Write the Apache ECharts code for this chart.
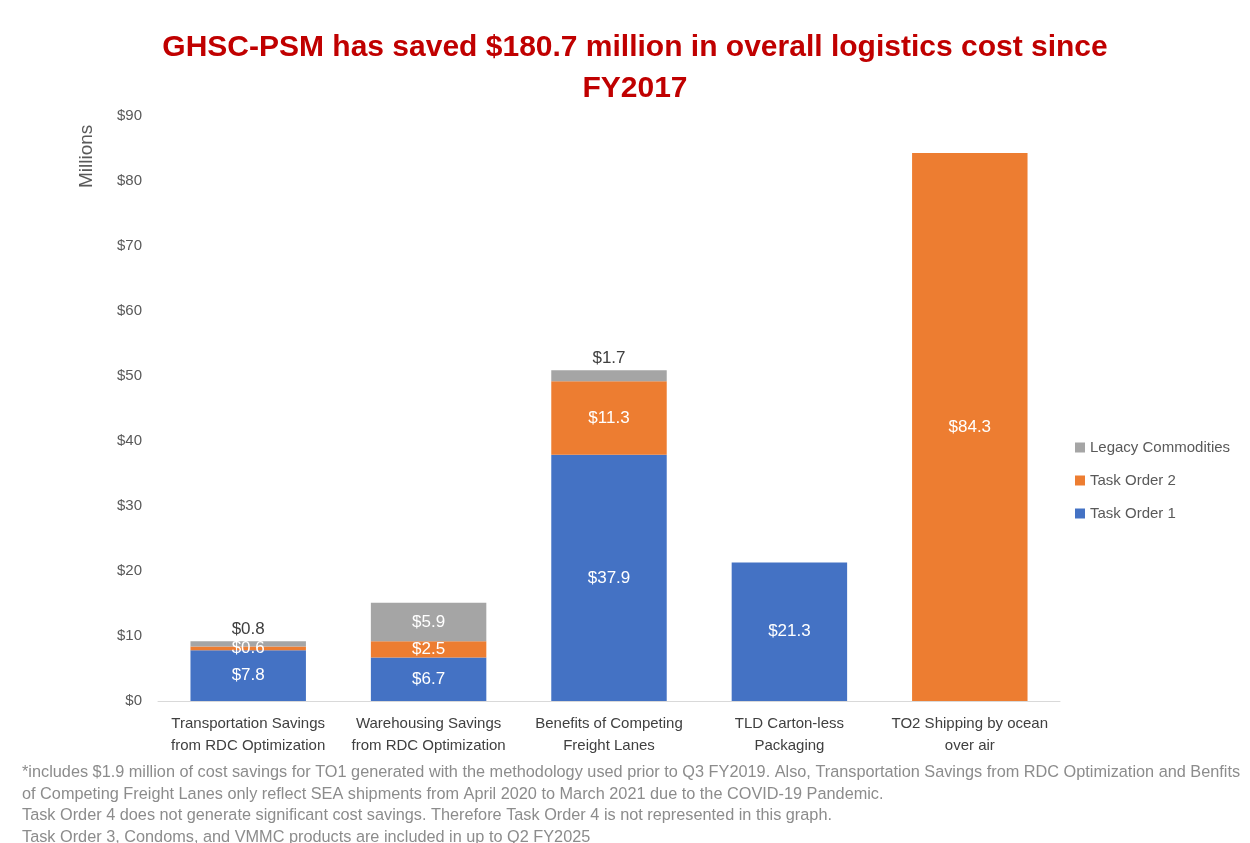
<!DOCTYPE html>
<html>
<head>
<meta charset="utf-8">
<script src="https://cdn.jsdelivr.net/npm/echarts@6/dist/echarts.min.js"></script>
<style>
  body { margin: 0; background: #fff; }
  #main { width: 1250px; height: 843px; }
</style>
</head>
<body>
<div id="main"></div>
<script>
// data (millions of dollars)
var categories = ['Transportation Savings\nfrom RDC Optimization', 'Warehousing Savings\nfrom RDC Optimization',
    'Benefits of Competing\nFreight Lanes', 'TLD Carton-less\nPackaging', 'TO2 Shipping by ocean\nover air'];
var taskOrder1 = [7.8, 6.7, 37.9, 21.3, 0];
var taskOrder2 = [0.6, 2.5, 11.3, 0, 84.3];
var legacy = [0.8, 5.9, 1.7, 0, 0];
var yTicks = [0, 10, 20, 30, 40, 50, 60, 70, 80, 90];

var footnotes = [
    '*includes $1.9 million of cost savings for TO1 generated with the methodology used prior to Q3 FY2019. Also, Transportation Savings from RDC Optimization and Benfits',
    'of Competing Freight Lanes only reflect SEA shipments from April 2020 to March 2021 due to the COVID-19 Pandemic.',
    'Task Order 4 does not generate significant cost savings. Therefore Task Order 4 is not represented in this graph.',
    'Task Order 3, Condoms, and VMMC products are included in up to Q2 FY2025'
];

var fontFam = 'Liberation Sans, Arial, sans-serif';

function fmt(p) {
    return p.value ? '$' + p.value.toFixed(1) : '';
}

// small segments get their label put above the bar
function legacyData(arr) {
    return arr.map(function (v) {
        if (v > 0 && v < 2) {
            return { value: v, label: { position: 'top', color: '#404040' } };
        }
        return v;
    });
}

var chartDom = document.getElementById('main');
var myChart = echarts.init(chartDom);

var noteEls = footnotes.map(function (t, i) {
    return {
        type: 'text', left: 22, top: 765 + i * 21.5,
        style: { text: t, fill: '#8c8c8c', font: '16.3px ' + fontFam }
    };
});
// y axis unit, rotated
noteEls.push({
    type: 'text', x: 77, y: 188, rotation: Math.PI / 2,
    style: { text: 'Millions', fill: '#595959', font: '19px ' + fontFam }
});

var option = {
    backgroundColor: '#fff',
    animation: false,
    title: {
        text: 'GHSC-PSM has saved $180.7 million in overall logistics cost since\nFY2017',
        left: 630, textAlign: 'center', top: 22,
        textStyle: { color: '#C00000', fontSize: 30, fontWeight: 'bold', fontFamily: fontFam, lineHeight: 41 }
    },
    legend: {
        orient: 'vertical', left: 1070, top: 435, itemGap: 18,
        itemWidth: 10, itemHeight: 10, icon: 'rect',
        data: ['Legacy Commodities', 'Task Order 2', 'Task Order 1'],
        textStyle: { color: '#595959', fontSize: 15, fontFamily: fontFam }
    },
    grid: { left: 158, right: 190, top: 116, bottom: 142 },
    xAxis: {
        type: 'category', data: categories,
        axisLine: { lineStyle: { color: '#d9d9d9' } },
        axisTick: { show: false },
        axisLabel: { color: '#404040', fontSize: 15, fontFamily: fontFam, lineHeight: 22, margin: 12, interval: 0 }
    },
    yAxis: {
        type: 'value', min: yTicks[0], max: yTicks[yTicks.length - 1], interval: 10,
        splitLine: { show: false },
        axisLine: { show: false },
        axisLabel: { color: '#595959', fontSize: 15, fontFamily: fontFam, margin: 16, formatter: '${value}' }
    },
    series: [
        {
            name: 'Task Order 1', type: 'bar', stack: 'a', barWidth: '64%', data: taskOrder1,
            itemStyle: { color: '#4472C4' },
            label: { show: true, position: 'inside', color: '#fff', fontSize: 17, fontFamily: fontFam, formatter: fmt }
        },
        {
            name: 'Task Order 2', type: 'bar', stack: 'a', data: taskOrder2,
            itemStyle: { color: '#ED7D31' },
            label: { show: true, position: 'inside', color: '#fff', fontSize: 17, fontFamily: fontFam, formatter: fmt }
        },
        {
            name: 'Legacy Commodities', type: 'bar', stack: 'a', data: legacyData(legacy),
            itemStyle: { color: '#A5A5A5' },
            label: { show: true, position: 'inside', color: '#fff', fontSize: 17, fontFamily: fontFam, formatter: fmt, distance: 3 }
        }
    ],
    graphic: noteEls
};

myChart.setOption(option);
</script>
</body>
</html>
